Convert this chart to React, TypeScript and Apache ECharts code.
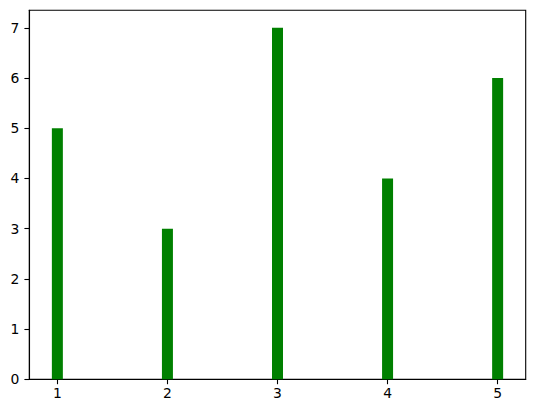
import React, { useEffect, useRef } from 'react';
import * as echarts from 'echarts';

const xValues = [1, 2, 3, 4, 5];
const barValues = [5, 3, 7, 4, 6];
const yTicks = [0, 1, 2, 3, 4, 5, 6, 7];

const App: React.FC = () => {
  const chartRef = useRef<HTMLDivElement>(null);

  useEffect(() => {
    if (!chartRef.current) return;
    const chart = echarts.init(chartRef.current, null, { renderer: 'svg' });

    const labelStyle = {
      color: '#000',
      fontFamily: 'DejaVu Sans',
      fontSize: 13.9,
    };

    const option = {
      animation: false,
      grid: {
        left: 29.3,
        top: 10.3,
        width: 496.4,
        height: 369,
        show: true,
        borderColor: '#000',
        borderWidth: 1.1,
        backgroundColor: 'transparent',
      },
      xAxis: {
        type: 'value',
        min: 0.745,
        max: 5.255,
        splitLine: { show: false },
        axisLine: { show: true, onZero: false, lineStyle: { color: '#000', width: 1.1 } },
        axisTick: {
          show: true,
          length: 4.9,
          customValues: xValues,
          lineStyle: { color: '#000', width: 1.1 },
        },
        axisLabel: { ...labelStyle, margin: 7, customValues: xValues },
      },
      yAxis: {
        type: 'value',
        min: 0,
        max: 7.35,
        splitLine: { show: false },
        axisLine: { show: true, lineStyle: { color: '#000', width: 1.1 } },
        axisTick: {
          show: true,
          length: 4.9,
          customValues: yTicks,
          lineStyle: { color: '#000', width: 1.1 },
        },
        axisLabel: { ...labelStyle, margin: 10, customValues: yTicks },
      },
      series: [
        {
          type: 'bar',
          data: xValues.map((x, i) => [x, barValues[i]]),
          barWidth: 11,
          itemStyle: { color: '#008000' },
        },
      ],
    };

    chart.setOption(option);
    return () => {
      chart.dispose();
    };
  }, []);

  return (
    <div
      ref={chartRef}
      style={{ position: 'fixed', left: 0, top: 0, width: 534, height: 413, background: '#fff' }}
    />
  );
};

export default App;
